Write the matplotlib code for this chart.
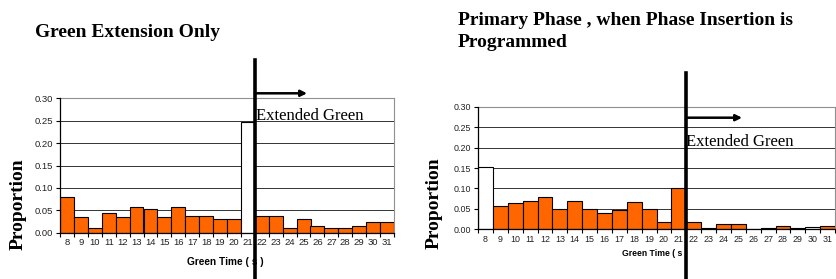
import numpy as np
import matplotlib
matplotlib.use("Agg")
import matplotlib.pyplot as plt
from matplotlib.transforms import blended_transform_factory

green_time = list(range(8, 32))

# proportions
ext_only = [0.079, 0.035, 0.010, 0.043, 0.035, 0.058, 0.052, 0.035, 0.058, 0.037,
            0.037, 0.031, 0.031, 0.248, 0.037, 0.037, 0.010, 0.031, 0.016, 0.010,
            0.010, 0.016, 0.025, 0.025]
ext_only_white = [21]

primary = [0.153, 0.058, 0.065, 0.070, 0.080, 0.050, 0.070, 0.050, 0.040, 0.047,
           0.068, 0.050, 0.018, 0.100, 0.018, 0.003, 0.012, 0.012, 0.000, 0.003,
           0.008, 0.003, 0.006, 0.008]
primary_white = [8, 30]

yticks = [0.0, 0.05, 0.10, 0.15, 0.20, 0.25, 0.30]

orange = "#FF6600"
serif = "Liberation Serif"
sans = "Liberation Sans"

fig = plt.figure(figsize=(8.36, 2.79), dpi=100)


def draw(ax, values, whites, tick_fs, xlab_fs, xlab_y, arrow_top, arrow_y, text_y, text_dx):
    x = np.arange(len(green_time))
    colors = ["white" if g in whites else orange for g in green_time]
    ax.bar(x, values, width=1.0, color=colors, edgecolor="black", linewidth=0.8, zorder=3)
    ax.set_xlim(-0.5, len(green_time) - 0.5)
    ax.set_ylim(0, 0.30)
    ax.set_yticks(yticks)
    ax.set_yticklabels([f"{v:.2f}" for v in yticks], fontsize=tick_fs, family=sans, color="#222222")
    ax.set_xticks(x)
    ax.set_xticklabels([str(g) for g in green_time], fontsize=tick_fs, family=sans, color="#222222")
    ax.set_xticks(np.arange(len(green_time) + 1) - 0.5, minor=True)
    ax.tick_params(axis="x", which="major", length=0, pad=4)
    ax.tick_params(axis="x", which="minor", length=3, width=0.8)
    ax.tick_params(axis="y", length=3, width=0.8, pad=2)
    ax.grid(axis="y", color="#333333", linewidth=0.7, zorder=1)
    ax.set_axisbelow(True)
    for side in ("top", "right"):
        ax.spines[side].set_color("#909090")
        ax.spines[side].set_linewidth(0.8)
    for side in ("left", "bottom"):
        ax.spines[side].set_linewidth(0.9)
        ax.spines[side].set_zorder(4)

    ax.set_xlabel("Green Time ( s )", fontsize=xlab_fs, family=sans, fontweight="bold")
    ax.xaxis.set_label_coords(0.495, xlab_y)
    ax.set_ylabel("Proportion", fontsize=14, family=serif, fontweight="bold")
    ax.yaxis.set_label_coords(-0.10, 0.21)

    # the divider between normal and extended green, 21 | 22 s
    split = green_time.index(21) + 0.5
    trans = blended_transform_factory(ax.transData, fig.transFigure)
    ax.plot([split, split], [0, arrow_top], transform=trans, color="black",
            linewidth=2.6, clip_on=False, zorder=6)
    ax.annotate("", xy=(split + 3.75, arrow_y), xytext=(split, arrow_y),
                xycoords=trans, textcoords=trans,
                arrowprops=dict(arrowstyle="-|>", color="black", lw=1.8,
                                shrinkA=0, shrinkB=0, mutation_scale=9),
                zorder=6)
    ax.text(split + text_dx, text_y, "Extended Green", transform=trans, family=serif,
            fontsize=12, va="baseline", ha="left", zorder=5)


ax1 = fig.add_axes([60 / 836, 1 - 232.7 / 279, 334 / 836, 134.4 / 279])
draw(ax1, ext_only, ext_only_white, 6.8, 7.3, -0.18, 1 - 60 / 279, 1 - 93.3 / 279,
     1 - 120.5 / 279, 0.1)

ax2 = fig.add_axes([478 / 836, 1 - 229.3 / 279, 357 / 836, 122.6 / 279])
draw(ax2, primary, primary_white, 6.4, 6.2, -0.16, 1 - 73 / 279, 1 - 117.7 / 279,
     1 - 146 / 279, -0.05)

fig.text(35 / 836, 1 - 36.7 / 279, "Green Extension Only", family=serif,
         fontweight="bold", fontsize=14, va="baseline")
fig.text(458 / 836, 1 - 25 / 279, "Primary Phase , when Phase Insertion is", family=serif,
         fontweight="bold", fontsize=14, va="baseline")
fig.text(458 / 836, 1 - 47 / 279, "Programmed", family=serif,
         fontweight="bold", fontsize=14, va="baseline")

fig.savefig("out.png", dpi=100)
